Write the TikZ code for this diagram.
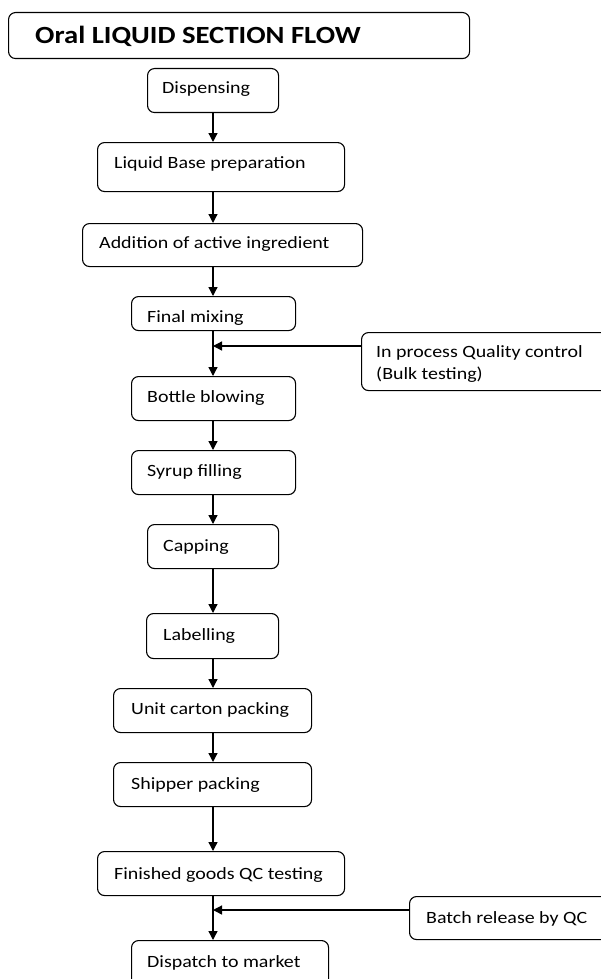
\documentclass[tikz,border=0pt]{standalone}
\usepackage{fontspec}
\setmainfont{Carlito}[FakeStretch=1.16]
\usetikzlibrary{arrows.meta}
\tikzset{
  box/.style={draw, line width=1.1pt, rounded corners=7pt, anchor=north west, inner sep=0pt},
  txt/.style={anchor=base west, inner sep=0pt, font=\fontsize{17.2}{21.5}\selectfont},
  arr/.style={line width=1.3pt, -{Triangle[length=9pt,width=9pt]}},
  ln/.style={line width=1.3pt}
}
\newcommand{\bx}[5]{\node[box, minimum width=#4pt, minimum height=#5pt] (#1) at (#2,#3) {};}
\begin{document}
\begin{tikzpicture}[x=1pt,y=-1pt]
\useasboundingbox (0,0) rectangle (600,979);
% title
\bx{title}{8}{12}{461}{46}
\node[anchor=base west, inner sep=0pt, font=\fontsize{24.7}{30}\selectfont\bfseries] (titletxt) at (35,44) {Oral LIQUID SECTION FLOW};
% boxes
\bx{disp}{147}{68}{131}{44}
\node[txt] (disptxt) at (162,94) {Dispensing};
\bx{liq}{97}{142}{247}{49}
\node[txt] (liqtxt) at (114,168) {Liquid Base preparation};
\bx{add}{82}{223}{280}{43}
\node[txt] (addtxt) at (99,248) {Addition of active ingredient};
\bx{fm}{131}{296}{164}{34}
\node[txt] (fmtxt) at (147,322) {Final mixing};
\bx{ipqc}{361}{332}{270}{58}
\node[txt, align=left] (ipqctxt) at (376,357) {In process Quality control};
\node[txt] (ipqctxt2) at (376,379) {(Bulk testing)};
\bx{bb}{131}{376}{164}{44}
\node[txt] (bbtxt) at (147,402) {Bottle blowing};
\bx{sf}{131}{450}{164}{44}
\node[txt] (sftxt) at (147,476) {Syrup filling};
\bx{cap}{147}{524}{131}{44}
\node[txt] (captxt) at (163,551) {Capping};
\bx{lab}{146}{613}{132}{45}
\node[txt] (labtxt) at (163,640) {Labelling};
\bx{uc}{113}{688}{198}{44}
\node[txt] (uctxt) at (131,714) {Unit carton packing};
\bx{sp}{113}{762}{198}{44}
\node[txt] (sptxt) at (131,789) {Shipper packing};
\bx{fg}{97}{851}{247}{44}
\node[txt] (fgtxt) at (114,879) {Finished goods QC testing};
\bx{br}{409}{896}{225}{43}
\node[txt] (brtxt) at (426,923) {Batch release by QC};
\bx{dm}{131}{940}{197}{50}
\node[txt] (dmtxt) at (147,967) {Dispatch to market};
% connectors
\coordinate (cx) at (213,0);
\draw[arr] (disp.south -| cx) -- (liq.north -| cx);
\draw[arr] (liq.south -| cx) -- (add.north -| cx);
\draw[arr] (add.south -| cx) -- (fm.north -| cx);
\draw[arr] (fm.south -| cx) -- (bb.north -| cx);
\coordinate (j1) at (213,346);
\draw[arr] (ipqc.west |- j1) -- (j1);
\draw[arr] (bb.south -| cx) -- (sf.north -| cx);
\draw[arr] (sf.south -| cx) -- (cap.north -| cx);
\draw[arr] (cap.south -| cx) -- (lab.north -| cx);
\draw[arr] (lab.south -| cx) -- (uc.north -| cx);
\draw[arr] (uc.south -| cx) -- (sp.north -| cx);
\draw[arr] (sp.south -| cx) -- (fg.north -| cx);
\draw[arr] (fg.south -| cx) -- (dm.north -| cx);
\coordinate (j2) at (213,910);
\draw[arr] (br.west |- j2) -- (j2);
\end{tikzpicture}
\end{document}
